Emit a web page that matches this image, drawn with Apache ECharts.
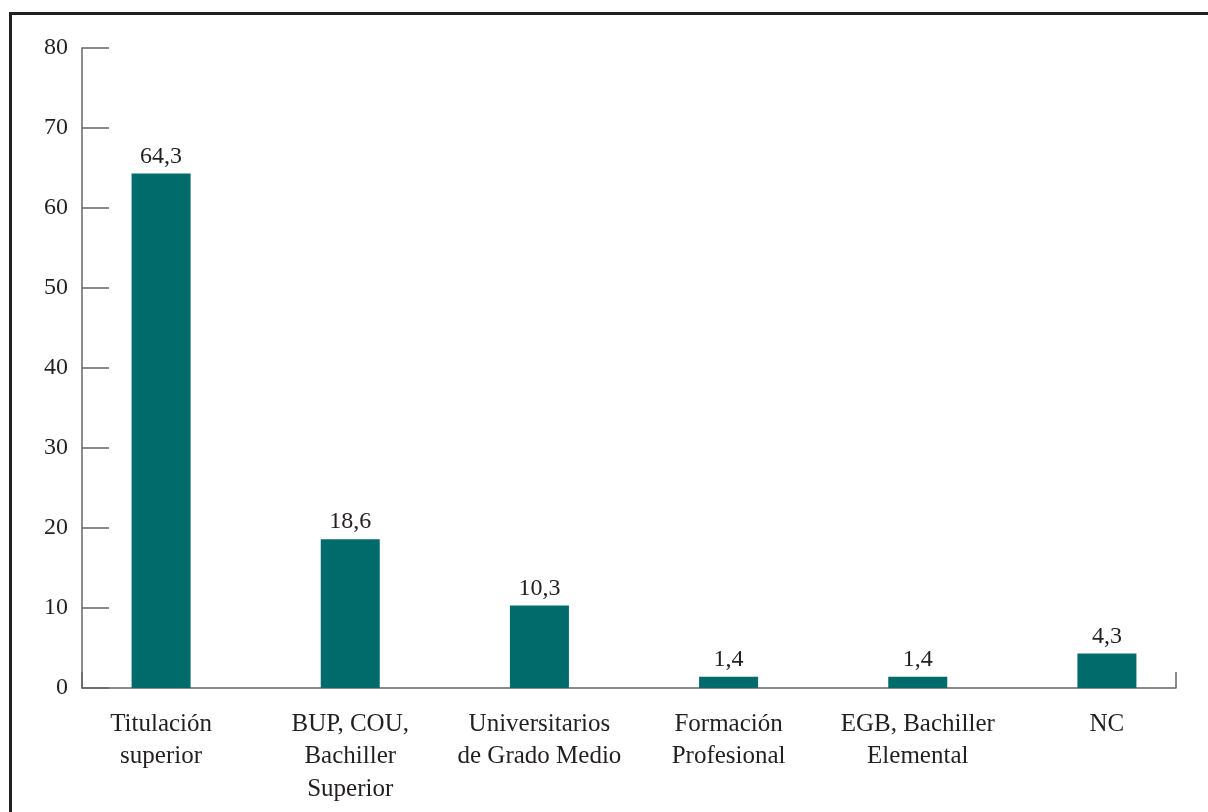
<!DOCTYPE html>
<html>
<head>
<meta charset="utf-8">
<script src="https://cdn.jsdelivr.net/npm/echarts@6/dist/echarts.min.js"></script>
<style>
html,body{margin:0;padding:0;background:#fff;}
#chart{width:1208px;height:812px;}
</style>
</head>
<body>
<div id="chart"></div>
<script>
const categories = ['Titulación\nsuperior', 'BUP, COU,\nBachiller\nSuperior', 'Universitarios\nde Grado Medio', 'Formación\nProfesional', 'EGB, Bachiller\nElemental', 'NC'];
const values = [64.3, 18.6, 10.3, 1.4, 1.4, 4.3];
const yTicks = [0, 10, 20, 30, 40, 50, 60, 70, 80];

const FONT = '"Liberation Serif", "DejaVu Serif", serif';
const TXT = '#231f20';
const AXIS = '#666';

const chart = echarts.init(document.getElementById('chart'), null, {renderer: 'canvas'});
chart.setOption({
  backgroundColor: '#fff',
  animation: false,
  graphic: [{
    type: 'rect',
    shape: {x: 10.5, y: 13.5, width: 1400, height: 1000},
    style: {fill: 'none', stroke: '#231f20', lineWidth: 3},
    silent: true
  }],
  grid: [
    {left: 82, right: 32, top: 48, bottom: 124},
    {left: 66.5, right: 6.5, top: 48, bottom: 124}
  ],
  xAxis: [
    {
      type: 'category', gridIndex: 0, data: [''],
      axisLine: {show: true, lineStyle: {color: AXIS, width: 1.5}},
      axisTick: {show: true, inside: true, length: 16, lineStyle: {color: AXIS, width: 1.5}},
      axisLabel: {show: false},
      splitLine: {show: false}
    },
    {
      type: 'category', gridIndex: 1, data: categories,
      axisLine: {show: false},
      axisTick: {show: false},
      axisLabel: {
        show: true, interval: 0, margin: 20,
        color: TXT, fontFamily: FONT, fontSize: 25, lineHeight: 32.5, align: 'center'
      },
      splitLine: {show: false}
    }
  ],
  yAxis: [
    {
      type: 'value', gridIndex: 0, min: yTicks[0], max: yTicks[yTicks.length - 1], interval: 10,
      axisLine: {show: true, lineStyle: {color: AXIS, width: 1.5}},
      axisTick: {show: true, inside: true, length: 27, lineStyle: {color: AXIS, width: 1.5}},
      axisLabel: {show: true, margin: 14, color: TXT, fontFamily: FONT, fontSize: 24},
      splitLine: {show: false}
    },
    {
      type: 'value', gridIndex: 1, min: yTicks[0], max: yTicks[yTicks.length - 1], interval: 10,
      show: false
    }
  ],
  series: [{
    type: 'bar',
    xAxisIndex: 1, yAxisIndex: 1,
    data: values,
    barWidth: 59,
    itemStyle: {color: '#016b6b'},
    label: {
      show: true, position: 'top', distance: 5,
      color: TXT, fontFamily: FONT, fontSize: 24,
      formatter: p => String(p.value).replace('.', ',')
    }
  }]
});
</script>
</body>
</html>
